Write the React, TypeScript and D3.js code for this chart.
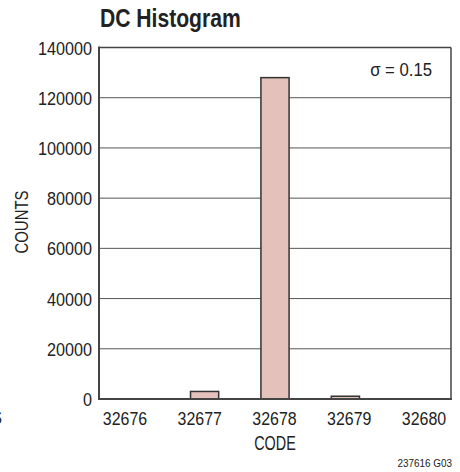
import * as d3 from 'd3';
import React, { useRef, useEffect } from 'react';

const codes = ['32676', '32677', '32678', '32679', '32680'];
const counts = [0, 3000, 128000, 1100, 0];
const yTicks = [0, 20000, 40000, 60000, 80000, 100000, 120000, 140000];
const sigmaLabel = 'σ = 0.15';

const W = 460;
const H = 472;
const m = { left: 99, right: 451, top: 47.5, bottom: 399 };
// no condensed face installed, so Liberation Sans gets squeezed with scaleX
const font = '"Liberation Sans", Arial, sans-serif';

function Histogram() {
  const ref = useRef(null);

  useEffect(() => {
    const svg = d3.select(ref.current);
    svg.selectAll('*').remove();

    const data = codes.map((c, i) => ({ code: c, value: counts[i] }));

    const x = d3.scaleBand().domain(codes).range([m.left, m.right])
      .paddingInner(0.6).paddingOuter(0.3);
    // tick labels sit a little wider than the bars in the original
    const xl = d3.scalePoint().domain(codes).range([125, 424]);
    const y = d3.scaleLinear().domain([0, 140000]).range([m.bottom, m.top]);

    // gridlines
    svg.append('g').selectAll('line').data(yTicks.slice(1, -1)).enter()
      .append('line')
      .attr('x1', m.left).attr('x2', m.right)
      .attr('y1', d => y(d)).attr('y2', d => y(d))
      .attr('stroke', '#555').attr('stroke-width', 1);

    // bars
    svg.append('g').selectAll('rect').data(data.filter(d => d.value > 0)).enter()
      .append('rect')
      .attr('x', d => x(d.code))
      .attr('y', d => y(d.value))
      .attr('width', x.bandwidth())
      .attr('height', d => m.bottom - y(d.value))
      .attr('fill', '#e4c1ba')
      .attr('stroke', '#333')
      .attr('stroke-width', 1.5);

    // frame
    svg.append('line').attr('x1', m.left).attr('x2', m.right)
      .attr('y1', m.top).attr('y2', m.top).attr('stroke', '#444').attr('stroke-width', 1.5);
    svg.append('line').attr('x1', m.right).attr('x2', m.right)
      .attr('y1', m.top).attr('y2', m.bottom).attr('stroke', '#444').attr('stroke-width', 1.5);
    svg.append('line').attr('x1', m.left).attr('x2', m.left)
      .attr('y1', m.top - 1).attr('y2', m.bottom + 1).attr('stroke', '#444').attr('stroke-width', 2);
    svg.append('line').attr('x1', m.left - 1).attr('x2', m.right + 1)
      .attr('y1', m.bottom).attr('y2', m.bottom).attr('stroke', '#444').attr('stroke-width', 2);

    const txt = (s, xx, yy, size, sx, anchor, rot = 0) => svg.append('text')
      .attr('transform', `translate(${xx},${yy}) rotate(${rot}) scale(${sx},1)`)
      .attr('text-anchor', anchor)
      .attr('font-family', font).attr('font-size', size)
      .attr('fill', '#222')
      .text(s);

    // y tick labels
    yTicks.forEach(t => txt(String(t), 92, y(t) + 7, 18, 0.9, 'end'));

    // x tick labels
    codes.forEach(c => txt(c, xl(c), 425, 19, 0.84, 'middle'));

    txt('DC Histogram', 100, 27, 25, 0.845, 'start').attr('font-weight', 'bold');
    txt('CODE', 275, 450, 20, 0.72, 'middle');
    txt('COUNTS', 28, 222, 18, 0.83, 'middle', -90);
    txt(sigmaLabel, 432, 76, 19, 0.88, 'end');
    txt('237616 G03', 452, 467, 11.5, 0.86, 'end');
    txt('S', 2, 424, 18, 0.85, 'end');
  }, []);

  return <svg ref={ref} width={W} height={H} style={{ display: 'block' }} />;
}

export default function App() {
  return (
    <div style={{ position: 'absolute', left: 0, top: 0 }}>
      <Histogram />
    </div>
  );
}
